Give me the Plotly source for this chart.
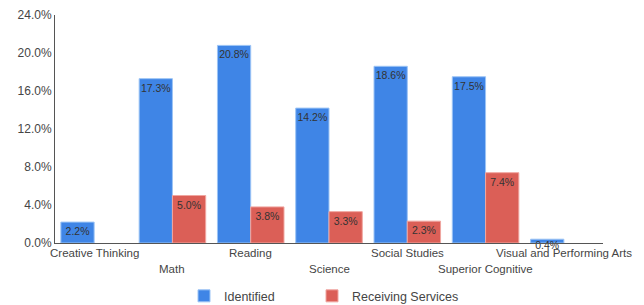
import plotly.graph_objects as go

categories = ["Creative Thinking", "Math", "Reading", "Science", "Social Studies",
              "Superior Cognitive", "Visual and Performing Arts"]
identified = [0.022, 0.173, 0.208, 0.142, 0.186, 0.175, 0.004]
receiving = [None, 0.050, 0.038, 0.033, 0.023, 0.074, None]
y_ticks = [0, 0.04, 0.08, 0.12, 0.16, 0.20, 0.24]

FONT = "Liberation Sans"
TXT = "#454545"

fig = go.Figure()
fig.add_trace(go.Bar(
    name="Identified", x=categories, y=identified, legend="legend",
    marker=dict(color="#3f85e6", line=dict(color="#9cc4f5", width=1)),
    text=[f"{v*100:.1f}%" for v in identified],
    textposition="inside", insidetextanchor="end", constraintext="none",
    textangle=0, textfont=dict(family=FONT, size=10.5, color="#333333"),
    cliponaxis=False,
))
fig.add_trace(go.Bar(
    name="Receiving Services", x=categories, y=receiving, legend="legend2",
    marker=dict(color="#db5f57", line=dict(color="#f0a6a0", width=1)),
    text=["" if v is None else f"{v*100:.1f}%" for v in receiving],
    textposition="inside", insidetextanchor="end", constraintext="none",
    textangle=0, textfont=dict(family=FONT, size=10.5, color="#333333"),
    cliponaxis=False,
))

for i, c in enumerate(categories):
    fig.add_annotation(
        x=c, y=0, xref="x", yref="paper", text=c, showarrow=False,
        yanchor="top", yshift=-2 if i % 2 == 0 else -18,
        font=dict(family=FONT, size=11.5, color=TXT),
    )

legend_common = dict(orientation="h", xref="container", yref="container",
                     xanchor="left", y=0.055, yanchor="middle",
                     font=dict(family=FONT, size=12.5, color=TXT),
                     itemwidth=30, bgcolor="rgba(0,0,0,0)")

fig.update_layout(
    width=644, height=305,
    margin=dict(l=47, r=49, t=7, b=70, autoexpand=False),
    paper_bgcolor="white", plot_bgcolor="white",
    barmode="group", bargap=0.15, bargroupgap=0,
    font=dict(family=FONT, size=11, color=TXT),
    showlegend=True,
    legend=dict(x=176 / 644, **legend_common),
    legend2=dict(x=304 / 644, **legend_common),
    xaxis=dict(showticklabels=False, showline=True, linecolor="#555555",
               linewidth=1, ticks="", showgrid=False, zeroline=False,
               range=[-0.5, len(categories) - 0.5], autorange=False),
    yaxis=dict(range=[0, 0.24], tickvals=y_ticks, tickformat=".1%",
               showline=True, linecolor="#555555", linewidth=1,
               showgrid=False, zeroline=False, ticks="", automargin=False,
               tickfont=dict(family=FONT, size=12, color=TXT)),
)

fig.write_html("out.html")
